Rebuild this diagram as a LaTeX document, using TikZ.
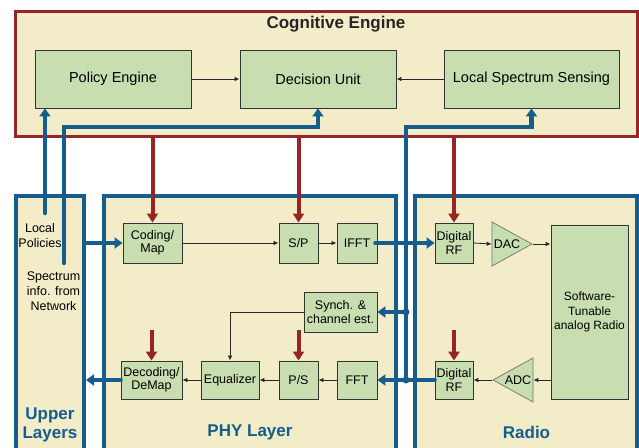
\documentclass[tikz,border=0pt]{standalone}
\usepackage{fontspec}
\setmainfont{Liberation Sans}
\usetikzlibrary{arrows.meta,shapes.geometric}
\definecolor{cream}{RGB}{242,236,200}
\definecolor{boxgreen}{RGB}{200,221,176}
\definecolor{cered}{RGB}{150,38,38}
\definecolor{layblue}{RGB}{22,92,140}
\begin{document}
\begin{tikzpicture}[x=1pt,y=-1pt,
  blk/.style={draw=black!80, line width=0.9pt, fill=boxgreen, inner sep=0pt,
    font=\fontsize{12.5}{13.5}\selectfont, align=center},
  bigblk/.style={blk, font=\fontsize{14.5}{16}\selectfont, minimum height=58pt},
  smallblk/.style={blk, minimum height=40pt},
  tri/.style={draw=black!55, line width=0.7pt, fill=boxgreen, inner sep=0pt,
    font=\fontsize{12.5}{13.5}\selectfont, isosceles triangle, isosceles triangle stretches,
    minimum width=44pt, minimum height=40pt},
  layer/.style={draw=layblue, line width=4pt, fill=cream},
  laylabel/.style={text=layblue, font=\fontsize{17}{20}\selectfont\bfseries, align=center},
  txt/.style={font=\fontsize{12.5}{15}\selectfont, align=center, inner sep=0pt},
  redarr/.style={draw=cered, line width=4pt, -{Triangle[length=9pt,width=11pt]}},
  bluearr/.style={draw=layblue, line width=4.5pt, line cap=round, -{Triangle[length=8pt,width=11pt]}},
  thinarr/.style={draw=black!85, line width=0.8pt, -{Latex[length=5pt,width=4.5pt]}}
]
\useasboundingbox (0,0) rectangle (639,447);
\clip (0,0) rectangle (639,447);

% Cognitive engine
\node[draw=cered, line width=3pt, fill=cream, minimum width=621.5pt, minimum height=125pt, inner sep=0pt] (ce) at (326.25,74) {};
\node[font=\fontsize{17}{20}\selectfont\bfseries, text=black!85] (cetitle) at (336,24) {Cognitive Engine};
\node[bigblk, minimum width=156pt] (policy) at (113,79) {Policy Engine};
\node[bigblk, minimum width=156pt] (decision) at (318,79) {Decision Unit};
\node[bigblk, minimum width=175pt] (lss) at (531.5,79) {Local Spectrum Sensing};

% Layers
\node[layer, minimum width=68pt, minimum height=274pt] (ul) at (50,333) {};
\node[layer, minimum width=292pt, minimum height=274pt] (phy) at (250,333) {};
\node[layer, minimum width=222pt, minimum height=274pt] (radio) at (526,333) {};
\node[laylabel] (ullabel) at (50,425) {Upper\\[-1pt]Layers};
\node[laylabel] (phylabel) at (250,432) {PHY Layer};
\node[laylabel] (radiolabel) at (526.5,432) {Radio};

\node[txt] (localpol) at (40,236) {Local\\Policies};
\node[txt] (specinfo) at (53.5,291.5) {Spectrum\\info. from\\Network};

% PHY blocks
\node[smallblk, minimum width=59pt] (coding) at (152.5,243) {Coding/\\Map};
\node[smallblk, minimum width=39pt] (sp) at (298.5,243) {S/P};
\node[smallblk, minimum width=40pt] (ifft) at (357,243) {IFFT};
\node[smallblk, minimum width=73pt] (synch) at (340.5,312) {Synch. \&\\channel est.};
\node[blk, minimum width=61pt, minimum height=38pt] (decoding) at (151.5,380) {Decoding/\\DeMap};
\node[blk, minimum width=58pt, minimum height=38pt] (eq) at (230,380) {Equalizer};
\node[blk, minimum width=39pt, minimum height=38pt] (ps) at (298.5,380) {P/S};
\node[blk, minimum width=40pt, minimum height=38pt] (fft) at (357,380) {FFT};

% Radio blocks
\node[smallblk, minimum width=38pt] (drf1) at (454,243) {Digital\\RF};
\node[blk, minimum width=38pt, minimum height=38pt] (drf2) at (454,380) {Digital\\RF};
\node[tri, shape border rotate=0] (dac) at (507,244) {DAC};
\node[tri, shape border rotate=180] (adc) at (518,380) {ADC};
\node[blk, minimum width=77pt, minimum height=174pt, font=\fontsize{12}{14.5}\selectfont] (soft) at (589.5,312) {Software-\\Tunable\\analog Radio};

% thin black arrows
\draw[thinarr] (policy.east) -- (decision.west);
\draw[thinarr] (lss.west) -- (decision.east);
\draw[thinarr] (coding.east) -- (sp.west);
\draw[thinarr] (sp.east) -- (ifft.west);
\draw[thinarr] (drf1.east) -- (dac.lower side);
\draw[thinarr] (dac.apex) -- (dac.apex -| soft.west);
\draw[thinarr] (adc.lower side -| soft.west) -- (adc.lower side);
\draw[thinarr] (adc.apex) -- (drf2.east);
\draw[thinarr] (fft.west) -- (ps.east);
\draw[thinarr] (ps.west) -- (eq.east);
\draw[thinarr] (eq.west) -- (decoding.east);
\draw[thinarr] (synch.west) -| (eq.north);

% red arrows
\draw[redarr] (ce.south -| coding.north) -- (coding.north);
\draw[redarr] (ce.south -| sp.north) -- (sp.north);
\draw[redarr] (ce.south -| drf1.north) -- (drf1.north);
\coordinate (r1) at ([yshift=31pt]decoding.north);
\coordinate (r2) at ([yshift=31pt]ps.north);
\coordinate (r3) at ([yshift=31pt]drf2.north);
\draw[redarr] (r1) -- (decoding.north);
\draw[redarr] (r2) -- (ps.north);
\draw[redarr] (r3) -- (drf2.north);

% blue arrows
\coordinate (lp) at (45,213);
\coordinate (sn) at (64,263);
\coordinate (kk) at (64,127);
\coordinate (bus) at (406,127);
\coordinate (j1) at (bus |- synch.east);
\coordinate (j2) at (bus |- fft.east);
\draw[bluearr] (lp) -- (lp |- policy.south);
\draw[bluearr] (sn) -- (kk) -| (decision.south);
\draw[bluearr] (j2) -- (bus) -| (lss.south);
\draw[bluearr] (j1) -- (synch.east);
\draw[bluearr] (drf2.west) -- (fft.east);
\draw[bluearr] ([xshift=-2pt]ifft.east) -- (drf1.west);
\draw[bluearr] (coding.west -| ul.east) -- (coding.west);
\draw[bluearr] (decoding.west) -- (decoding.west -| ul.east);
\fill[layblue] (j1) circle (3.5pt);
\fill[layblue] (j2) circle (3.5pt);
\end{tikzpicture}
\end{document}
